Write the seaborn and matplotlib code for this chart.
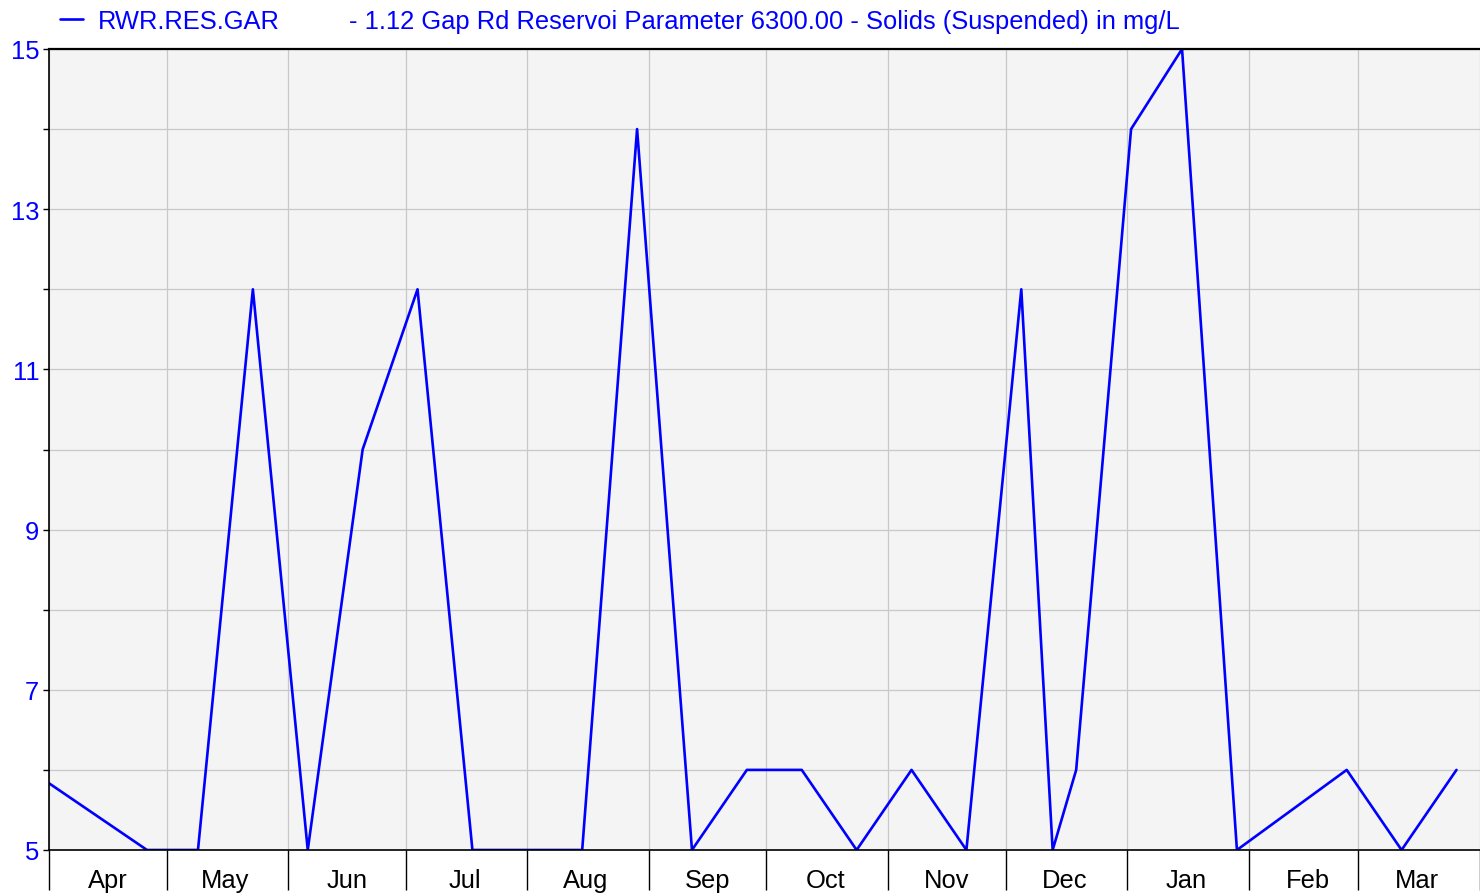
import numpy as np
import pandas as pd

import matplotlib
matplotlib.use('Agg')

import matplotlib.pyplot as plt
import matplotlib.dates as mdates
from matplotlib.ticker import FixedLocator, NullFormatter
import seaborn as sns


# =========================================================
# DATA
# =========================================================

SERIES_NAME = "RWR.RES.GAR"
DESCRIPTION = "- 1.12 Gap Rd Reservoi Parameter 6300.00 - Solids (Suspended) in mg/L"

sample_dates = [
    "2022-03-27", "2022-04-26", "2022-05-09", "2022-05-23", "2022-06-06",
    "2022-06-20", "2022-07-04", "2022-07-18", "2022-08-15", "2022-08-29",
    "2022-09-12", "2022-09-26", "2022-10-10", "2022-10-24", "2022-11-07",
    "2022-11-21", "2022-12-05", "2022-12-13", "2022-12-19", "2023-01-02",
    "2023-01-15", "2023-01-29", "2023-02-26", "2023-03-12", "2023-03-26",
]

solids_mg_l = [
    6, 5, 5, 12, 5,
    10, 12, 5, 5, 14,
    5, 6, 6, 5, 6,
    5, 12, 5, 6, 14,
    15, 5, 6, 5, 6,
]

period_start = "2022-04-01"
period_end = "2023-04-01"

y_labelled = [5, 7, 9, 11, 13, 15]
y_unlabelled = [6, 8, 10, 12, 14]

df = pd.DataFrame({
    "date": pd.to_datetime(sample_dates),
    "value": solids_mg_l,
})


# =========================================================
# STYLE
# =========================================================

BLUE = "#0000ff"
GRID = "#c8c8c8"
FONT_SIZE = 18.4

sns.set_theme(style="whitegrid", rc={
    "axes.facecolor": "#f4f4f4",
    "axes.edgecolor": "black",
    "grid.color": GRID,
    "grid.linewidth": 0.9,
})
plt.rcParams['font.family'] = ['Liberation Sans', 'DejaVu Sans']


# =========================================================
# FIGURE
# =========================================================

fig = plt.figure(figsize=(14.8, 8.95), dpi=100)
ax = fig.add_axes([49 / 1480, 44 / 895, 1 - 49 / 1480, 801 / 895])

sns.lineplot(
    data=df,
    x="date",
    y="value",
    color=BLUE,
    linewidth=1.9,
    label=SERIES_NAME,
    ax=ax,
)

ax.set_xlim(pd.Timestamp(period_start), pd.Timestamp(period_end))
ax.set_ylim(min(y_labelled), max(y_labelled))

# x axis: month boundaries as long ticks, month names centred
ax.xaxis.set_major_locator(mdates.MonthLocator())
ax.xaxis.set_major_formatter(NullFormatter())
ax.xaxis.set_minor_locator(mdates.MonthLocator(bymonthday=16))
ax.xaxis.set_minor_formatter(mdates.DateFormatter('%b'))
ax.tick_params(axis='x', which='major', length=29, width=1.0,
               color='black', bottom=True)
ax.tick_params(axis='x', which='minor', length=0, pad=13,
               labelsize=FONT_SIZE, labelcolor='black', bottom=True)
ax.grid(True, axis='x', which='major', color=GRID)
ax.grid(False, axis='x', which='minor')

# y axis
ax.yaxis.set_major_locator(FixedLocator(y_labelled))
ax.yaxis.set_minor_locator(FixedLocator(y_unlabelled))
ax.tick_params(axis='y', which='both', length=4, width=1.0,
               color='black', left=True, pad=3)
ax.tick_params(axis='y', which='major', labelsize=FONT_SIZE, labelcolor=BLUE)
ax.grid(True, axis='y', which='both', color=GRID)

ax.set_xlabel("")
ax.set_ylabel("")

for side in ['left', 'bottom']:
    ax.spines[side].set_linewidth(1.2)
ax.spines['top'].set_linewidth(1.6)
ax.spines['right'].set_visible(False)


# =========================================================
# LEGEND / HEADER
# =========================================================

ax.legend(
    loc='center left',
    bbox_to_anchor=(60 / 1480, 1 - 22 / 895),
    bbox_transform=fig.transFigure,
    frameon=False,
    fontsize=FONT_SIZE,
    handlelength=0.9,
    handletextpad=0.6,
    borderpad=0,
    borderaxespad=0,
    labelcolor=BLUE,
)

fig.text(
    349 / 1480,
    1 - 22 / 895,
    DESCRIPTION,
    color=BLUE,
    fontsize=FONT_SIZE,
    va='center',
    ha='left',
)


# =========================================================
# SAVE
# =========================================================

plt.savefig("out.png", dpi=100)
plt.close()
